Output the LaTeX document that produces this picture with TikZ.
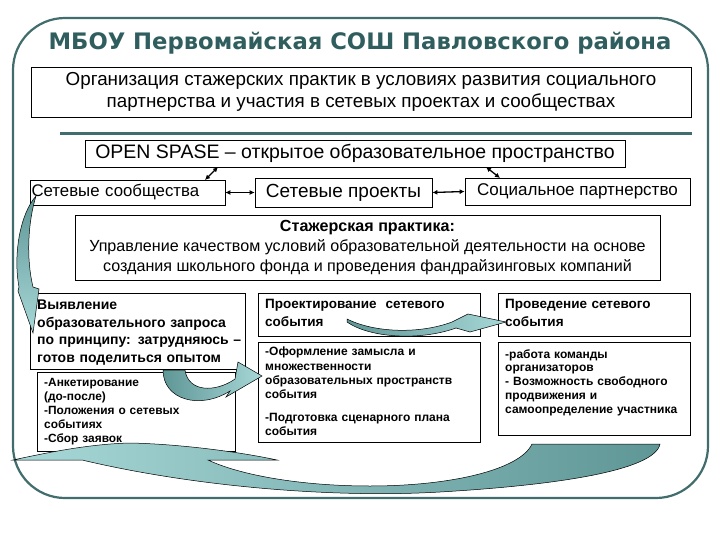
\documentclass[tikz,border=0pt]{standalone}
\usepackage{fontspec}
\setmainfont{Liberation Sans}
\newfontfamily\ttlfont{DejaVu Sans}
\usetikzlibrary{arrows.meta}
\definecolor{frm}{HTML}{416D6D}
\definecolor{ttl}{HTML}{305E5E}
\definecolor{tdark}{HTML}{5F9696}
\definecolor{tlight}{HTML}{A8D8D8}
\begin{document}
\begin{tikzpicture}[x=1pt,y=-1pt,
  bx/.style={draw, line width=0.7pt, inner sep=0pt},
  txt/.style={inner sep=0pt, align=left},
  dbl/.style={{Latex[length=5pt,width=5pt]}-{Latex[length=5pt,width=5pt]}, line width=1.3pt},
  blk/.style={draw=black, line width=0.5pt}]
\useasboundingbox (0,0) rectangle (720,540);
\fill[white] (0,0) rectangle (720,540);
\draw[frm, line width=2.2pt, rounded corners=52pt] (13,18) rectangle (708,498);

\node[ttl, font=\ttlfont\bfseries\fontsize{22.7}{26}\selectfont] (title) at (360,43) {МБОУ Первомайская СОШ Павловского района};

\node[bx, minimum width=660pt, minimum height=50pt, align=center,
  font=\fontsize{18.8}{22}\selectfont] (org) at (361,92)
  {Организация стажерских практик в условиях развития социального\\партнерства и участия в сетевых проектах и сообществах};

\draw[frm, line width=3pt] (60,134) -- (692,134);

\node[bx, minimum width=540pt, minimum height=27pt, font=\fontsize{19.5}{22}\selectfont] (open) at (355,153.5)
  {OPEN SPASE – открытое образовательное пространство};

\node[bx, minimum width=195pt, minimum height=25pt, text width=192pt, align=left,
  font=\fontsize{16.8}{18}\selectfont] (ss) at (127.5,192.5) {Сетевые сообщества};
\node[bx, minimum width=177pt, minimum height=29pt, font=\fontsize{19}{20}\selectfont] (sp) at (343.5,192.5) {Сетевые проекты};
\node[bx, minimum width=225pt, minimum height=27pt, font=\fontsize{17}{18}\selectfont] (soc) at (577.5,191.5) {Социальное партнерство};

\draw[dbl] (ss.east) -- (sp.west);
\draw[dbl] (sp.east) -- (soc.west);
\coordinate (d1a) at (218,167);
\coordinate (d1b) at (205,180);
\coordinate (d2a) at (486,167);
\coordinate (d2b) at (500,178);
\draw[dbl] (d1a) -- (d1b);
\draw[dbl] (d2a) -- (d2b);

\node[bx, minimum width=585pt, minimum height=65pt, align=center,
  font=\fontsize{16.1}{20}\selectfont] (st) at (367.5,247.5)
  {{\bfseries Стажерская практика:}\\Управление качеством условий образовательной деятельности на основе\\создания школьного фонда и проведения фандрайзинговых компаний};

% lower boxes
\node[bx, anchor=north west, minimum width=215pt, minimum height=76pt] (a) at (30,293) {};
\node[txt, anchor=north west, text width=212pt, font=\bfseries\fontsize{14}{17.7}\selectfont] (at) at (37,299.5)
  {Выявление\\образовательного запроса\\по принципу: затрудняюсь –\\готов поделиться опытом};
\node[bx, anchor=north west, minimum width=198pt, minimum height=79pt] (a2) at (37,372) {};
\node[txt, anchor=north west, text width=190pt, font=\bfseries\fontsize{11.9}{14}\selectfont] (a2t) at (44,378)
  {-Анкетирование\\(до-после)\\-Положения о сетевых\\событиях\\-Сбор заявок};

\node[bx, anchor=north west, minimum width=222pt, minimum height=43pt] (b) at (258,293) {};
\node[txt, anchor=north west, text width=215pt, font=\bfseries\fontsize{13.5}{18}\selectfont] (bt) at (265,299.5)
  {Проектирование \ сетевого\\события};
\node[bx, anchor=north west, minimum width=222pt, minimum height=100pt] (b2) at (258,342) {};
\node[txt, anchor=north west, text width=215pt, font=\bfseries\fontsize{12}{14.3}\selectfont] (b2t) at (265,347)
  {-Оформление замысла и\\множественности\\образовательных пространств\\события\\[8pt]-Подготовка сценарного плана\\события};

\node[bx, anchor=north west, minimum width=192pt, minimum height=43pt] (c) at (498,293) {};
\node[txt, anchor=north west, text width=188pt, font=\bfseries\fontsize{13.5}{18}\selectfont] (ct) at (505,299.5)
  {Проведение сетевого\\события};
\node[bx, anchor=north west, minimum width=192pt, minimum height=93pt] (c2) at (498,342) {};
\node[txt, anchor=north west, text width=188pt, font=\bfseries\fontsize{12}{13.8}\selectfont] (c2t) at (505,349)
  {-работа команды\\организаторов\\- Возможность свободного\\продвижения и\\самоопределение участника};

% curved block arrows
\draw[blk, top color=tdark, bottom color=tlight]
  (36,196) .. controls (20,214) and (13,255) .. (19,287) -- (18,291) -- (33,333) -- (39,289) -- (33,287)
  .. controls (26,258) and (28,222) .. (36,196) -- cycle;

\draw[blk, left color=tdark, right color=tlight]
  (163,370) .. controls (163,400) and (200,410) .. (230,391) -- (226,397) -- (262,376) -- (238,362) -- (235,379)
  .. controls (215,393) and (188,392) .. (185,370) -- cycle;

\draw[blk, left color=tdark, right color=tlight]
  (347,319) .. controls (375,333) and (420,334) .. (452,322) -- (468,314) -- (506,322) -- (470,332) -- (456,328)
  .. controls (420,341) and (370,338) .. (347,322) -- cycle;

\draw[blk, left color=tlight, right color=tdark]
  (660,444) .. controls (655,470) and (560,485) .. (440,492)
  .. controls (340,498) and (200,488) .. (82,460)
  -- (13,460)
  .. controls (50,452) and (90,444) .. (130,443)
  .. controls (180,444) and (240,452) .. (277,460)
  -- (208,460)
  .. controls (240,475) and (300,486) .. (370,486)
  .. controls (450,486) and (520,470) .. (532,444)
  -- cycle;
\end{tikzpicture}
\end{document}
